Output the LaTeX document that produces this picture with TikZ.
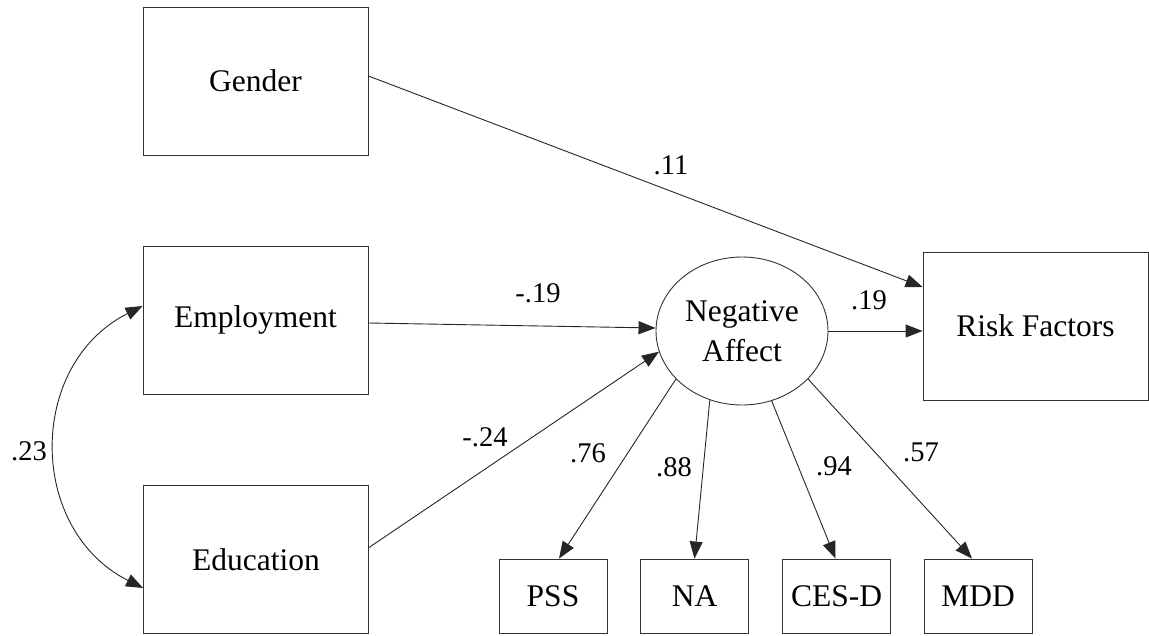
\documentclass[tikz,border=0pt]{standalone}
\usepackage{fontspec}
\setmainfont{Liberation Serif}
\usetikzlibrary{arrows.meta,shapes.geometric}
\tikzset{
  var/.style={draw=black!80, line width=0.9pt, minimum width=225pt, minimum height=148pt, inner sep=0pt, font=\fontsize{31.5}{38}\selectfont},
  ind/.style={draw=black!80, line width=0.9pt, minimum width=108pt, minimum height=74pt, inner sep=0pt, font=\fontsize{31.5}{38}\selectfont},
  lat/.style={ellipse, draw=black!80, line width=0.9pt, minimum width=172pt, minimum height=148pt, inner sep=0pt, align=center, font=\fontsize{31.5}{40}\selectfont},
  arr/.style={draw=black!85, line width=0.9pt, -{Triangle[length=17pt,width=13pt]}},
  biarr/.style={draw=black!85, line width=0.9pt, {Triangle[length=17pt,width=13pt]}-{Triangle[length=17pt,width=13pt]}},
  coef/.style={font=\fontsize{28.5}{34}\selectfont, inner sep=0pt},
}
\begin{document}
\begin{tikzpicture}[x=1pt,y=-1pt]
\useasboundingbox (0,0) rectangle (1149,635);
% observed variables
\node[var] (gen) at (255.5,81) {Gender};
\node[var] (emp) at (255.5,320) {Employment};
\node[var] (edu) at (256,559.5) {Education};
\node[var] (rf)  at (1035.5,326) {Risk Factors};
% latent
\node[lat] (neg) at (742,331) {Negative\\Affect};
% indicators
\node[ind] (pss)  at (553,596) {PSS};
\node[ind] (nab)  at (694.5,596) {NA};
\node[ind] (cesd) at (836.5,596) {CES-D};
\node[ind] (mdd)  at (978,596) {MDD};
% paths
\draw[arr] ([yshift=5pt]gen.east) -- ([yshift=39pt]rf.west);
\draw[arr] ([yshift=-3pt]emp.east) -- ([yshift=3pt]neg.west);
\draw[arr] ([yshift=12pt]edu.east) -- (neg.194);
\draw[arr] (neg.east) -- (neg.east -| rf.west);
\draw[arr] (neg.216) -- ([xshift=6pt]pss.north);
\draw[arr] (neg.245) -- (nab.north);
\draw[arr] (neg.293.6) -- ([xshift=-1pt]cesd.north);
\draw[arr] (neg.324) -- ([xshift=-6pt]mdd.north);
\draw[biarr] ([yshift=14pt]emp.west) .. controls +(-115.9,58.3) and +(-115.9,-58.3) .. ([yshift=-28.5pt]edu.west);
% coefficients
\node[coef] (c11)  at (671,165) {.11};
\node[coef] (c19a) at (538,293) {-.19};
\node[coef] (c19b) at (869,300) {.19};
\node[coef] (c24)  at (485,437) {-.24};
\node[coef] (c76)  at (588,453) {.76};
\node[coef] (c88)  at (674,467) {.88};
\node[coef] (c94)  at (834,466) {.94};
\node[coef] (c57)  at (921,452) {.57};
\node[coef] (c23)  at (29,451) {.23};
\end{tikzpicture}
\end{document}
